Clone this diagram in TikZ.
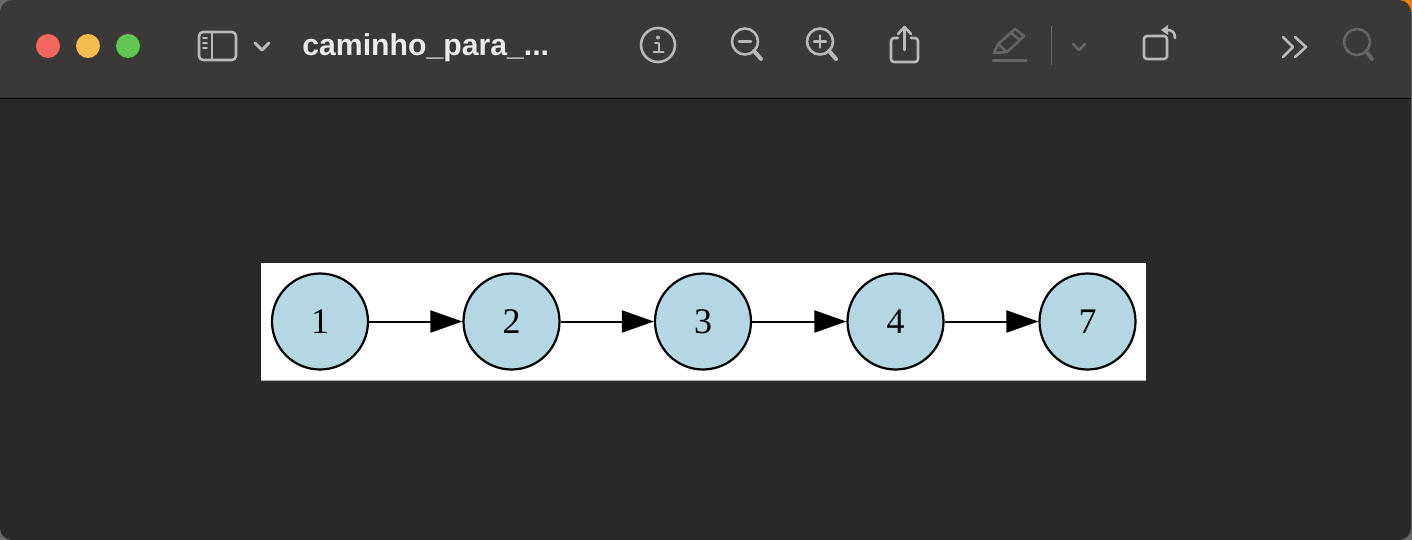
\documentclass[tikz,border=0pt]{standalone}
\usepackage{fontspec}
\usepackage{tikz}
\usetikzlibrary{arrows.meta}
\setmainfont{Liberation Serif}
\newfontfamily\titlefont{Liberation Sans}
\definecolor{barcol}{HTML}{3A3937}
\definecolor{bodycol}{HTML}{292929}
\definecolor{edgecol}{HTML}{6A6A6A}
\definecolor{graphcol}{HTML}{B5D7E4}
\definecolor{iconcol}{HTML}{B9B9B8}
\definecolor{dimcol}{HTML}{656564}
\tikzset{
    graphnode/.style={circle,draw=black,fill=graphcol,line width=1.1pt,minimum size=48pt,inner sep=0pt,font=\fontsize{18}{20}\selectfont},
    graphedge/.style={-{Triangle[length=16pt,width=11pt]},line width=1pt,black},
    lightdot/.style={circle,minimum size=12pt,inner sep=0pt},
    iconline/.style={draw=iconcol,line width=1.3pt,line cap=round,line join=round},
    dimline/.style={draw=dimcol,line width=1.3pt,line cap=round,line join=round}
}
\begin{document}
\begin{tikzpicture}[x=0.5pt,y=-0.5pt]
        \useasboundingbox (0,0) rectangle (1412,540);
        \fill[edgecol] (0,0) rectangle (1412,540);
        \fill[orange!70!brown] (1400,0) rectangle (1412,12);
        \fill[barcol,rounded corners=6pt] (0,98) -- (0,0) -- (1411,0) -- (1411,98);
        \fill[bodycol,rounded corners=6pt] (0,98) -- (0,540) -- (1411,540) -- (1411,98);
        \draw[black,line width=0.7pt] (0,98.5) -- (1411,98.5);

        \node [lightdot,fill={rgb,255:red,242;green,104;blue,94}] (red) at (48,46) {};
        \node [lightdot,fill={rgb,255:red,245;green,189;blue,79}] (yellow) at (88,46) {};
        \node [lightdot,fill={rgb,255:red,97;green,197;blue,84}] (green) at (128,46) {};

        \draw[iconline,rounded corners=2pt] (199,32) rectangle (236,60);
        \draw[iconline] (212,32) -- (212,60);
        \draw[iconline,line width=0.9pt] (203,38) -- (207,38) (203,43) -- (207,43) (203,48) -- (207,48);
        \draw[iconline,line width=1.5pt] (255,43) -- (262,50) -- (269,43);
        \node [anchor=base west,inner sep=0pt,text=white!92!black,font=\titlefont\bfseries\fontsize{15.1}{18}\selectfont] (title) at (302,56) {caminho\_para\_...};

        \draw[iconline] (658,45) circle (17);
        \draw[iconline,line width=1pt] (655,43.5) -- (658.5,43.5) -- (658.5,52.5) (653.5,52.5) -- (663.5,52.5);
        \fill[iconcol] (658,37.5) circle (2);
        \draw[iconline] (745,41.5) circle (13);
        \draw[iconline] (739,41.5) -- (751,41.5);
        \draw[iconline,line width=2pt] (754,51) -- (761,59);
        \draw[iconline] (820,41.5) circle (13);
        \draw[iconline] (814,41.5) -- (826,41.5) (820,35.5) -- (820,47.5);
        \draw[iconline,line width=2pt] (829,51) -- (836,59);
        \draw[iconline,rounded corners=1.5pt] (898,38) -- (891,38) -- (891,62) -- (918,62) -- (918,38) -- (911,38);
        \draw[iconline] (904.5,50) -- (904.5,28) (898,34) -- (904.5,27) -- (911,34);

        \draw[dimline] (994,53) -- (998,44) -- (1015,29) -- (1024,36) -- (1007,52) -- cycle;
        \draw[dimline] (998,44) -- (1007,52) (1011,33) -- (1020,40);
        \draw[dimline,line width=1.5pt] (993,60.5) -- (1026,60.5);
        \draw[dimcol,line width=0.5pt] (1051,26) -- (1051,65);
        \draw[dimline] (1073,44) -- (1079,50) -- (1085,44);

        \draw[iconline,rounded corners=1.5pt] (1144,36) rectangle (1167,59);
        \draw[iconline] (1175,38) .. controls (1175,32) and (1172,30) .. (1167,30);
        \fill[iconcol] (1161,30) -- (1168,25) -- (1168,35) -- cycle;
        \draw[iconline] (1283,37) -- (1293,47) -- (1283,57);
        \draw[iconline] (1295,37) -- (1306,47) -- (1295,57);
        \draw[dimline] (1357,42) circle (13);
        \draw[dimline,line width=2pt] (1366,51) -- (1372,59);

        \fill[white] (261,263) rectangle (1146,380);
        \fill[gray!60] (261,379.5) rectangle (1146,381);

        \node [graphnode] (N1) at (320,321.5) {1};
        \node [graphnode] (N2) at (511.5,321.5) {2};
        \node [graphnode] (N3) at (703,321.5) {3};
        \node [graphnode] (N4) at (895.5,321.5) {4};
        \node [graphnode] (N7) at (1087.5,321.5) {7};

        \draw[graphedge] (N1) edge (N2) ;
        \draw[graphedge] (N2) edge (N3) ;
        \draw[graphedge] (N3) edge (N4) ;
        \draw[graphedge] (N4) edge (N7) ;
    \end{tikzpicture}
\end{document}
